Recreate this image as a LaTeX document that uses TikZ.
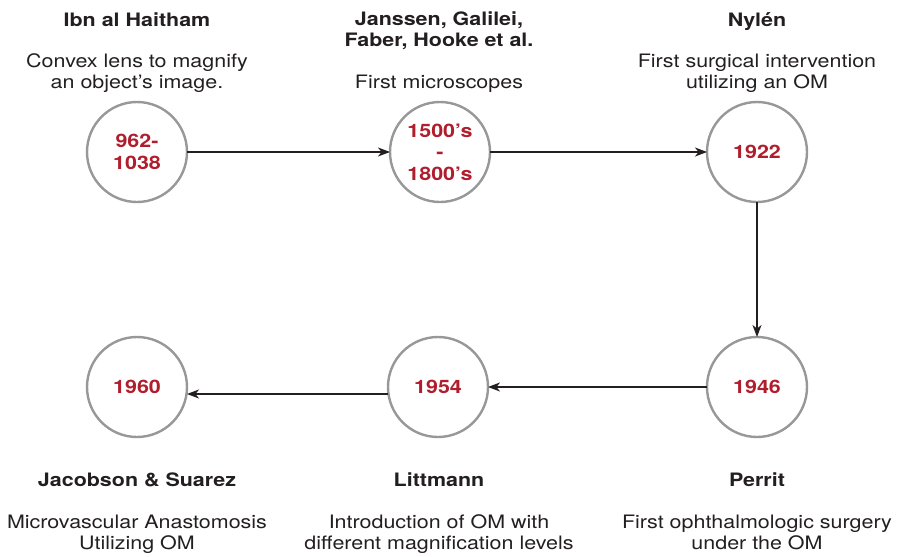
\documentclass[tikz,border=0pt]{standalone}
\usepackage{fontspec}
\setmainfont[FakeStretch=1.16]{TeX Gyre Heros}
\usetikzlibrary{arrows.meta}
\definecolor{txt}{RGB}{35,31,32}
\definecolor{yr}{RGB}{176,30,45}
\definecolor{ring}{RGB}{152,152,155}
\begin{document}
\begin{tikzpicture}[x=1pt,y=-1pt,
  every node/.style={inner sep=0pt,outer sep=0pt,text=txt,font=\fontsize{18.5}{21}\selectfont},
  yearnode/.style={circle,draw=ring,line width=2.4pt,fill=white,minimum size=100pt,
     text=yr,font=\fontsize{18.5}{21.5}\selectfont\bfseries,align=center},
  namelbl/.style={anchor=base,align=center,font=\fontsize{18.5}{21}\selectfont\bfseries},
  desclbl/.style={anchor=base,align=center},
  conn/.style={draw=txt,line width=1.2pt,-{Stealth[length=12pt,width=9pt,inset=3.5pt]}}]
\useasboundingbox (0,0) rectangle (898,557);
% circles
\node[yearnode] (c1) at (137,152) {962-\\1038};
\node[yearnode] (c2) at (440,152) {1500’s\\-\\1800’s};
\node[yearnode] (c3) at (757,152) {1922};
\node[yearnode] (c4) at (757,387) {1946};
\node[yearnode] (c5) at (438,387) {1954};
\node[yearnode] (c6) at (137,387) {1960};
% top labels (base anchor of multi-line nodes = last line)
\node[namelbl] (n1) at (137,26) {Ibn al Haitham};
\node[desclbl] (d1) at (137,88) {Convex lens to magnify\\an object’s image.};
\node[namelbl] (n2) at (439,46) {Janssen, Galilei,\\Faber, Hooke et al.};
\node[desclbl] (d2) at (439,88) {First microscopes};
\node[namelbl] (n3) at (757,26) {Nylén};
\node[desclbl] (d3) at (757,88) {First surgical intervention\\utilizing an OM};
% bottom labels
\node[namelbl] (n6) at (137,486) {Jacobson \& Suarez};
\node[desclbl] (d6) at (137,549) {Microvascular Anastomosis\\Utilizing OM};
\node[namelbl] (n5) at (439,486) {Littmann};
\node[desclbl] (d5) at (439,549) {Introduction of OM with\\different magnification levels};
\node[namelbl] (n4) at (757,486) {Perrit};
\node[desclbl] (d4) at (757,549) {First ophthalmologic surgery\\under the OM};
% connectors
\draw[conn] (c1) -- (c2);
\draw[conn] (c2) -- (c3);
\draw[conn] (c3) -- (c4);
\draw[conn] (c4) -- (c5);
\draw[conn] ([yshift=-7pt]c5.west) -- ([yshift=-7pt]c6.east);
\end{tikzpicture}
\end{document}
